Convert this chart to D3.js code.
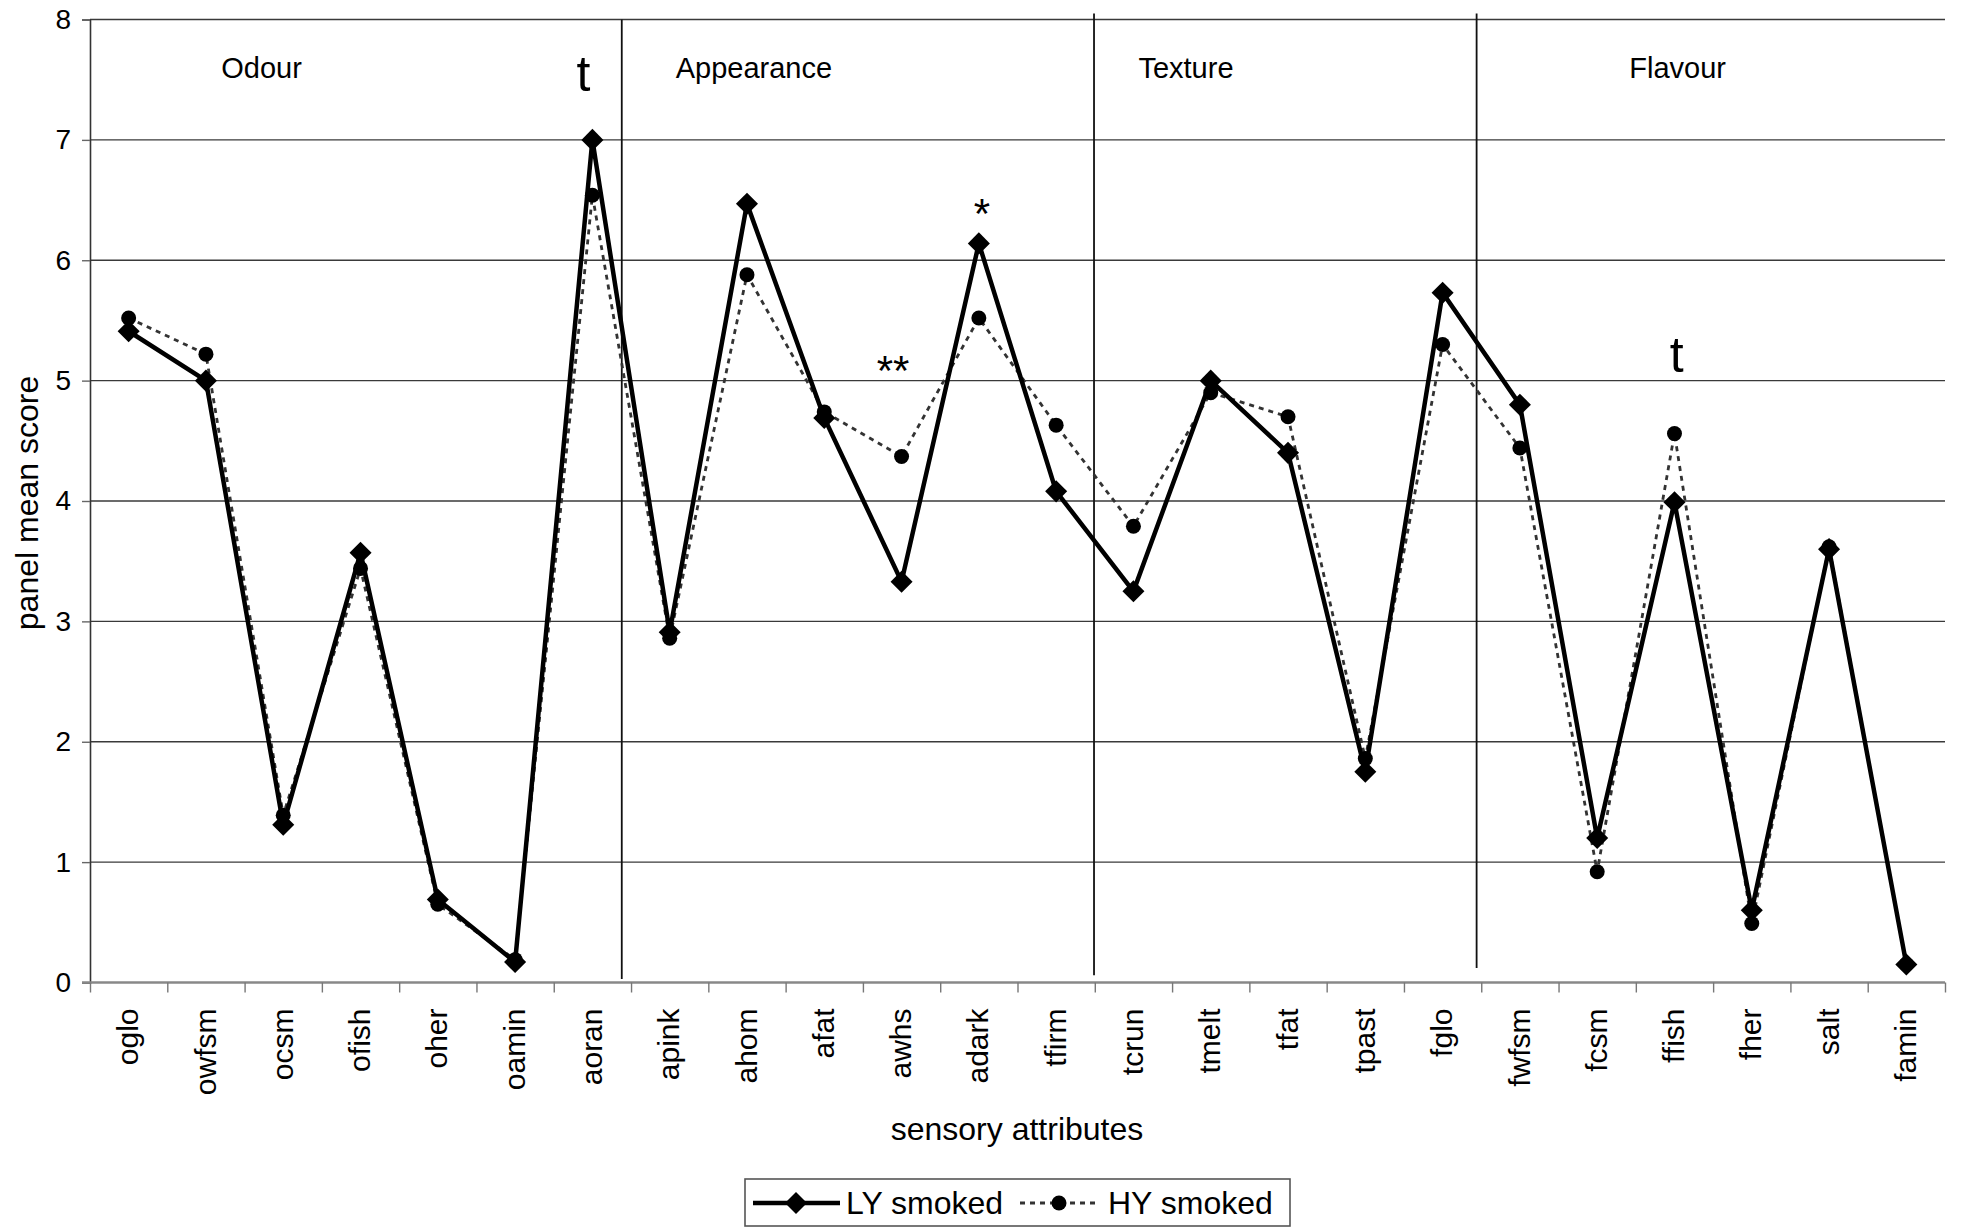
<!DOCTYPE html>
<html lang="en">
    <head>
        <meta charset="UTF-8">
        <title>Panel mean scores, LY vs HY smoked</title>
        <script src="https://d3js.org/d3.v7.min.js"></script>
        <style>
            body { margin: 0; background: #fff; }
            text { font-family: "Liberation Sans", Arial, sans-serif; fill: #000; }
        </style>
    </head>

    <body>
        <script>
            // data
            const categories = ["oglo", "owfsm", "ocsm", "ofish", "oher", "oamin", "aoran",
                "apink", "ahom", "afat", "awhs", "adark", "tfirm", "tcrun", "tmelt", "tfat",
                "tpast", "fglo", "fwfsm", "fcsm", "ffish", "fher", "salt", "famin"];
            const lySmoked = [5.41, 5.0, 1.31, 3.57, 0.69, 0.17, 7.0, 2.91, 6.47, 4.69, 3.33, 6.14,
                4.08, 3.25, 5.0, 4.40, 1.75, 5.73, 4.80, 1.20, 3.99, 0.60, 3.60, 0.15];
            const hySmoked = [5.52, 5.22, 1.39, 3.44, 0.65, 0.19, 6.54, 2.86, 5.88, 4.74, 4.37, 5.52,
                4.63, 3.79, 4.90, 4.70, 1.86, 5.30, 4.44, 0.92, 4.56, 0.49, 3.62, 0.15];
            const yTicks = [0, 1, 2, 3, 4, 5, 6, 7, 8];

            // section labels and dividers, in category units
            const sectionNames = ["Odour", "Appearance", "Texture", "Flavour"];
            const sectionCentres = [2.22, 8.59, 14.18, 20.54];
            const dividerPos = [6.88, 12.99, 17.94];
            const dividerTop = [8.0, 8.05, 8.05];
            const dividerBottom = [0.03, 0.06, 0.12];

            // significance marks: text, position in category units, score at baseline
            const markText = ["t", "*", "**", "t"];
            const markPos = [6.385, 11.54, 10.39, 20.53];
            const markValue = [7.41, 6.27, 4.96, 5.07];

            const width = 1961, height = 1228;
            const margin = {top: 19.5, right: 16, bottom: 245.5, left: 90};
            const plotW = width - margin.left - margin.right;
            const plotH = height - margin.top - margin.bottom;

            const svg = d3.select("body").append("svg")
                .attr("width", width)
                .attr("height", height);

            svg.append("rect").attr("width", width).attr("height", height).attr("fill", "#fff");

            const g = svg.append("g")
                .attr("transform", `translate(${margin.left},${margin.top})`);

            const x = d3.scaleBand().domain(categories).range([0, plotW]);
            const xu = d3.scaleLinear().domain([0, categories.length]).range([0, plotW]);
            const y = d3.scaleLinear().domain([0, 8]).range([plotH, 0]);
            const cx = c => x(c) + x.bandwidth() / 2;

            // gridlines
            g.selectAll(".grid")
                .data(yTicks.filter(d => d > 0))
                .enter().append("line")
                .attr("x1", 0).attr("x2", plotW)
                .attr("y1", d => y(d)).attr("y2", d => y(d))
                .attr("stroke", "#3a3a3a").attr("stroke-width", 1.4);

            // y axis
            const yAxis = g.append("g")
                .call(d3.axisLeft(y).tickValues(yTicks).tickSize(8).tickPadding(11).tickFormat(d3.format("d")));
            yAxis.select(".domain").attr("stroke", "#333").attr("stroke-width", 1.6);
            yAxis.selectAll(".tick line").attr("stroke", "#666").attr("stroke-width", 1.4);
            yAxis.selectAll("text").attr("font-size", 28).attr("font-family", "Liberation Sans, Arial, sans-serif");

            // x axis: tick marks at category boundaries
            const xAxis = g.append("g")
                .attr("transform", `translate(0,${plotH})`)
                .call(d3.axisBottom(xu).tickValues(d3.range(0, categories.length + 1)).tickSize(10).tickFormat(""));
            xAxis.select(".domain").attr("stroke", "#888").attr("stroke-width", 2.5)
                .attr("d", `M-8,0H${plotW}`);
            xAxis.selectAll(".tick line").attr("stroke", "#777").attr("stroke-width", 1.4);

            // x labels, rotated
            g.append("g")
                .selectAll("text")
                .data(categories)
                .enter().append("text")
                .attr("transform", d => `translate(${cx(d)},${plotH + 26}) rotate(-90)`)
                .attr("dy", "0.32em")
                .attr("text-anchor", "end")
                .attr("font-size", 30)
                .text(d => d);

            // section dividers and names
            g.selectAll(".divider")
                .data(dividerPos)
                .enter().append("line")
                .attr("x1", d => xu(d)).attr("x2", d => xu(d))
                .attr("y1", (d, i) => y(dividerTop[i])).attr("y2", (d, i) => y(dividerBottom[i]))
                .attr("stroke", "#111").attr("stroke-width", 1.8);

            g.selectAll(".section")
                .data(sectionNames)
                .enter().append("text")
                .attr("x", (d, i) => xu(sectionCentres[i]))
                .attr("y", y(7.51))
                .attr("text-anchor", "middle")
                .attr("font-size", 29)
                .text(d => d);

            // series
            const lyData = categories.map((c, i) => ({cat: c, value: lySmoked[i]}));
            const hyData = categories.map((c, i) => ({cat: c, value: hySmoked[i]}));

            const line = d3.line()
                .x(d => cx(d.cat))
                .y(d => y(d.value));

            g.append("path")
                .datum(hyData)
                .attr("d", line)
                .attr("fill", "none")
                .attr("stroke", "#333")
                .attr("stroke-width", 2.8)
                .attr("stroke-dasharray", "5,5");

            g.selectAll(".hy")
                .data(hyData)
                .enter().append("circle")
                .attr("cx", d => cx(d.cat))
                .attr("cy", d => y(d.value))
                .attr("r", 7.5)
                .attr("fill", "#000");

            g.append("path")
                .datum(lyData)
                .attr("d", line)
                .attr("fill", "none")
                .attr("stroke", "#000")
                .attr("stroke-width", 4.5)
                .attr("stroke-linejoin", "miter");

            const diamond = d3.symbol().type(d3.symbolDiamond2).size(310);
            g.selectAll(".ly")
                .data(lyData)
                .enter().append("path")
                .attr("d", diamond)
                .attr("transform", d => `translate(${cx(d.cat)},${y(d.value)})`)
                .attr("fill", "#000");

            // significance marks
            g.selectAll(".mark")
                .data(markText)
                .enter().append("text")
                .attr("x", (d, i) => xu(markPos[i]))
                .attr("y", (d, i) => y(markValue[i]))
                .attr("text-anchor", "middle")
                .attr("font-size", d => d === "t" ? 50 : 42)
                .text(d => d);

            // axis titles
            svg.append("text")
                .attr("x", 1017)
                .attr("y", 1140)
                .attr("text-anchor", "middle")
                .attr("font-size", 32)
                .text("sensory attributes");

            svg.append("text")
                .attr("transform", "translate(38,503) rotate(-90)")
                .attr("text-anchor", "middle")
                .attr("font-size", 32)
                .text("panel mean score");

            // legend
            const lg = svg.append("g").attr("transform", "translate(745,1179)");
            lg.append("rect")
                .attr("width", 545).attr("height", 47)
                .attr("fill", "#fff").attr("stroke", "#555").attr("stroke-width", 1.6);

            lg.append("line").attr("x1", 8).attr("x2", 95).attr("y1", 24).attr("y2", 24)
                .attr("stroke", "#000").attr("stroke-width", 4.5);
            lg.append("path").attr("d", diamond).attr("transform", "translate(51,24)");
            lg.append("text").attr("x", 101).attr("y", 35).attr("font-size", 32).text("LY smoked");

            lg.append("line").attr("x1", 275).attr("x2", 353).attr("y1", 24).attr("y2", 24)
                .attr("stroke", "#333").attr("stroke-width", 2.8).attr("stroke-dasharray", "5,5");
            lg.append("circle").attr("cx", 314).attr("cy", 24).attr("r", 7.5).attr("fill", "#000");
            lg.append("text").attr("x", 363).attr("y", 35).attr("font-size", 32).text("HY smoked");
        </script>
    </body>
</html>
